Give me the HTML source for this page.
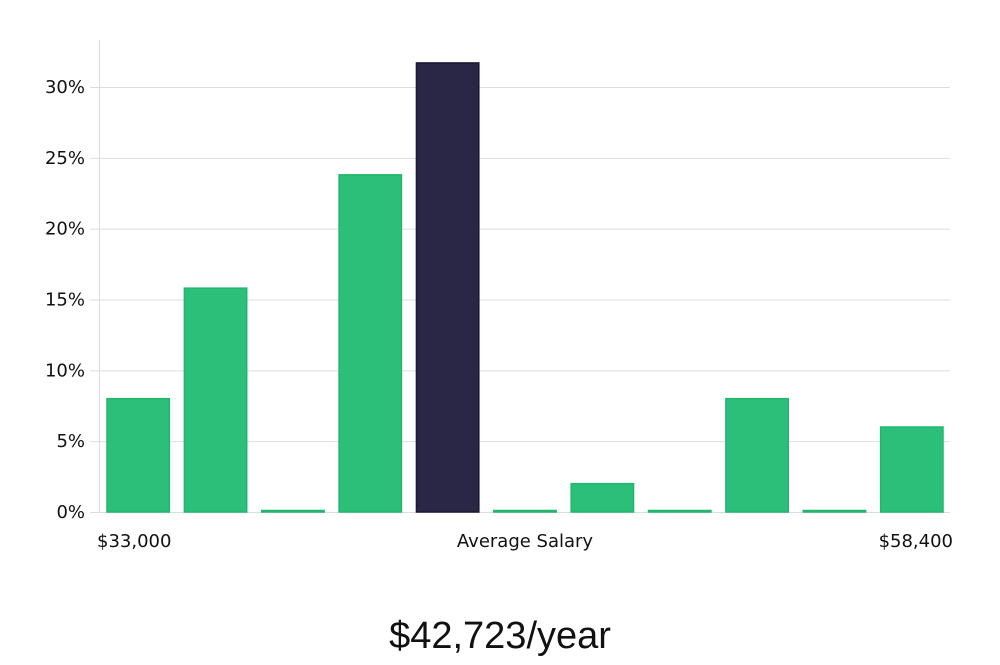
<!DOCTYPE html>
<html><head><meta charset="utf-8"><style>
body{margin:0;background:#fff;width:1000px;height:660px;overflow:hidden}
svg text{font-family:"DejaVu Sans","Liberation Sans",sans-serif;fill:#111}
</style></head><body>
<svg id="chart" width="1000" height="660" xmlns="http://www.w3.org/2000/svg">
<g id="grid"></g><g id="bars"></g>
<line x1="99.5" y1="40" x2="99.5" y2="512" stroke="#ddd"/>
<text x="97" y="547" font-size="18">$33,000</text>
<text x="525" y="547" font-size="18" text-anchor="middle">Average Salary</text>
<text x="953" y="547" font-size="18" text-anchor="end">$58,400</text>
<text x="500" y="648" font-size="38" text-anchor="middle" style="font-family:'Liberation Sans',sans-serif;font-weight:300" fill="#222">$42,723/year</text>
</svg>
<script>
const values=[8,15.8,0,23.8,31.7,0,2,0,8,0,6];
const highlight=[false,false,false,false,true,false,false,false,false,false,false];
const ticks=[0,5,10,15,20,25,30];
const tickLabels=["0%","5%","10%","15%","20%","25%","30%"];
const NS="http://www.w3.org/2000/svg";
const y0=512,pxPer=425/30,xL=99,xR=950,slot=(xR-xL)/values.length;
const y=v=>y0-v*pxPer;
const grid=document.getElementById('grid'),bars=document.getElementById('bars');
ticks.forEach((t,i)=>{
 const l=document.createElementNS(NS,'line');
 
 
 l.setAttribute('x1',90);l.setAttribute('x2',xR);l.setAttribute('y1',y(t)+0.5);l.setAttribute('y2',y(t)+0.5);
 l.setAttribute('stroke','#ddd');grid.appendChild(l);
 const tx=document.createElementNS(NS,'text');
 
 
 tx.setAttribute('x',85);tx.setAttribute('y',y(t)+6);tx.setAttribute('font-size','18');tx.setAttribute('text-anchor','end');
 tx.textContent=tickLabels[i];grid.appendChild(tx);
});
values.forEach((v,i)=>{
 const r=document.createElementNS(NS,'rect');
 
 
 const h=Math.max(v*pxPer,1.5);
 r.setAttribute('x',xL+i*slot+8);r.setAttribute('width',slot-15);
 r.setAttribute('y',y0-h);r.setAttribute('height',h);
 r.setAttribute('fill',highlight[i]?'#292646':'#2bbf79');
 r.setAttribute('stroke',highlight[i]?'#1a1833':'#22b56e');r.setAttribute('stroke-width','1.5');
 bars.appendChild(r);
});
</script>
</body></html>
